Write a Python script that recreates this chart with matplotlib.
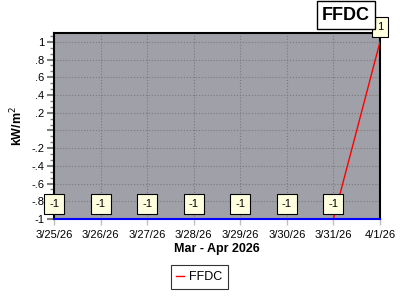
import datetime as dt
import matplotlib
matplotlib.use("Agg")
import matplotlib.pyplot as plt
import matplotlib.dates as mdates
from matplotlib.ticker import FixedLocator, AutoMinorLocator

plt.rcParams['font.family'] = ['Liberation Sans', 'DejaVu Sans']

# data
dates = [dt.datetime(2026, 3, 25) + dt.timedelta(days=i) for i in range(8)]
ffdc = [-1, -1, -1, -1, -1, -1, -1, 1]
yticks = [1, 0.8, 0.6, 0.4, 0.2, 0, -0.2, -0.4, -0.6, -0.8, -1]
ytick_labels = ["1", ".8", ".6", ".4", ".2", "", "-.2", "-.4", "-.6", "-.8", "-1"]

fig = plt.figure(figsize=(4, 3), dpi=100)
ax = fig.add_axes([0.135, 0.27, 0.815, 0.62])
ax.set_facecolor("#a0a0a8")

ax.plot(dates, ffdc, color="red", lw=1, zorder=3)
ax.axhline(-1, color="#0000ff", lw=1.5, zorder=4, clip_on=False)

for d, v in zip(dates, ffdc):
    ax.annotate(str(v), (d, v), xytext=(0, 11), textcoords="offset points",
                ha="center", va="center", fontsize=8, zorder=6,
                bbox=dict(boxstyle="square,pad=0.45", fc="#ffffe0", ec="black", lw=0.8),
                annotation_clip=False)

ax.set_xlim(dates[0], dates[-1])
ax.set_ylim(-1, 1.1)
ax.xaxis.set_major_locator(mdates.DayLocator())
ax.xaxis.set_major_formatter(mdates.DateFormatter("%-m/%-d/%y"))
ax.yaxis.set_major_locator(FixedLocator(yticks))
ax.set_yticklabels(ytick_labels)
ax.yaxis.set_minor_locator(AutoMinorLocator(3))

ax.grid(True, which="major", color="#7a7a7a", ls=":", lw=0.8)
ax.tick_params(axis="y", which="major", length=5, width=1.5, color="#808080", labelsize=8, pad=2)
ax.tick_params(axis="y", which="minor", length=3, width=1, color="#808080")
ax.tick_params(axis="x", length=4, width=1, color="#c0c0c0", labelsize=8, pad=4)

for s in ["left", "top", "right"]:
    ax.spines[s].set_color("black")
    ax.spines[s].set_linewidth(1.5)
ax.spines["bottom"].set_visible(False)

ax.set_xlabel("Mar - Apr 2026", fontsize=9, fontweight="bold", labelpad=2)
ax.set_ylabel("kW/m$^2$", fontsize=9, fontweight="bold", labelpad=4)

fig.text(0.865, 0.95, "FFDC", ha="center", va="center", fontsize=13, fontweight="bold",
         bbox=dict(boxstyle="square,pad=0.3", fc="white", ec="black", lw=1))

leg = fig.legend(handles=ax.lines[:1], labels=["FFDC"], loc="center",
                 bbox_to_anchor=(0.4975, 0.077), fontsize=9, frameon=True,
                 fancybox=False, handlelength=0.6, handletextpad=0.4,
                 borderpad=0.45)
leg.get_frame().set_edgecolor("black")
leg.get_frame().set_linewidth(0.8)

fig.savefig("out.png", dpi=100)
